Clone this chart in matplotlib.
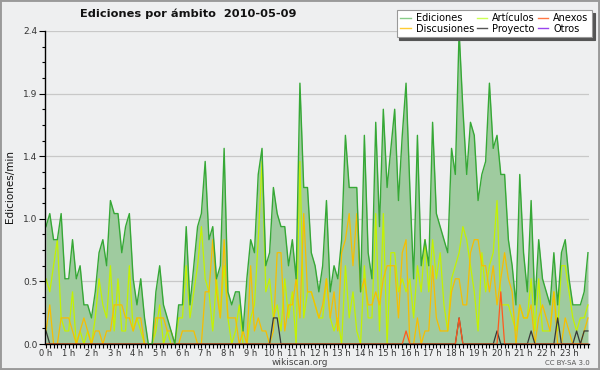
import numpy as np
import matplotlib
matplotlib.use("Agg")
import matplotlib.pyplot as plt
from matplotlib.lines import Line2D
from matplotlib.patches import Rectangle
from matplotlib.ticker import FixedLocator, MultipleLocator, FormatStrFormatter

# 10-minute samples over the day (144 points), edits per minute
ediciones = [
    0.9, 1.0, 0.8, 0.8, 1.0, 0.5, 0.5, 0.8, 0.5, 0.6, 0.3, 0.3, 0.2, 0.4, 0.7, 0.8, 0.6, 1.1, 1.0, 1.0, 0.7, 0.9, 1.0, 0.5,
    0.3, 0.5, 0.2, 0.0, 0.0, 0.4, 0.6, 0.3, 0.2, 0.1, 0.0, 0.3, 0.3, 0.9, 0.3, 0.6, 0.9, 1.0, 1.4, 0.8, 0.9, 0.5, 0.6, 1.5,
    0.4, 0.3, 0.4, 0.4, 0.1, 0.5, 0.8, 0.7, 1.3, 1.5, 0.6, 0.7, 1.2, 1.0, 0.9, 0.9, 0.6, 0.8, 0.5, 2.0, 1.2, 1.2, 0.7, 0.6,
    0.4, 0.6, 1.1, 0.4, 0.6, 0.5, 0.8, 1.6, 1.2, 1.2, 1.2, 0.4, 1.6, 0.7, 0.5, 1.7, 0.9, 1.8, 1.2, 1.5, 1.8, 1.1, 1.6, 2.0,
    1.2, 0.5, 1.6, 0.6, 0.8, 0.6, 1.7, 1.0, 0.9, 0.8, 0.7, 1.5, 1.3, 2.4, 1.8, 1.3, 1.7, 1.6, 1.1, 1.3, 1.4, 2.0, 1.5, 1.6,
    1.3, 1.3, 0.8, 0.6, 0.3, 1.3, 0.7, 0.4, 1.1, 0.3, 0.8, 0.5, 0.4, 0.3, 0.7, 0.3, 0.7, 0.8, 0.5, 0.3, 0.3, 0.3, 0.4, 0.7,
]
articulos = [
    0.5, 0.4, 0.6, 0.8, 0.2, 0.1, 0.1, 0.4, 0.0, 0.1, 0.0, 0.1, 0.0, 0.2, 0.5, 0.3, 0.2, 0.6, 0.1, 0.5, 0.1, 0.1, 0.6, 0.1,
    0.2, 0.1, 0.0, 0.0, 0.0, 0.1, 0.3, 0.0, 0.1, 0.0, 0.0, 0.2, 0.2, 0.6, 0.2, 0.4, 0.6, 0.9, 0.5, 0.4, 0.1, 0.5, 0.2, 0.6,
    0.2, 0.0, 0.1, 0.3, 0.0, 0.0, 0.2, 0.3, 0.8, 1.4, 0.4, 0.5, 0.2, 0.3, 0.1, 0.5, 0.2, 0.4, 0.0, 1.4, 0.2, 0.4, 0.4, 0.3,
    0.2, 0.2, 0.5, 0.2, 0.1, 0.2, 0.0, 0.6, 0.2, 0.4, 0.1, 0.0, 0.6, 0.2, 0.2, 1.0, 0.1, 1.0, 0.0, 0.7, 0.7, 0.4, 0.5, 0.4,
    0.5, 0.2, 0.6, 0.4, 0.8, 0.4, 0.8, 0.5, 0.7, 0.3, 0.1, 0.5, 0.6, 0.7, 0.9, 0.8, 0.6, 0.4, 0.1, 0.7, 0.4, 0.6, 0.7, 1.1,
    0.3, 0.3, 0.3, 0.2, 0.1, 0.3, 0.2, 0.2, 0.5, 0.1, 0.5, 0.1, 0.1, 0.1, 0.4, 0.1, 0.6, 0.6, 0.4, 0.2, 0.1, 0.2, 0.2, 0.3,
]
discusiones = [
    0.1, 0.3, 0.0, 0.0, 0.2, 0.2, 0.2, 0.1, 0.0, 0.1, 0.2, 0.1, 0.0, 0.1, 0.1, 0.0, 0.1, 0.1, 0.3, 0.3, 0.3, 0.2, 0.2, 0.1,
    0.2, 0.2, 0.0, 0.0, 0.0, 0.2, 0.2, 0.2, 0.1, 0.1, 0.0, 0.0, 0.1, 0.1, 0.1, 0.1, 0.0, 0.0, 0.4, 0.4, 0.8, 0.4, 0.2, 0.8,
    0.2, 0.2, 0.2, 0.0, 0.1, 0.0, 0.6, 0.1, 0.2, 0.1, 0.1, 0.0, 0.1, 0.7, 0.7, 0.1, 0.3, 0.3, 0.5, 0.2, 1.0, 0.4, 0.4, 0.3,
    0.2, 0.3, 0.5, 0.2, 0.4, 0.1, 0.7, 0.8, 1.0, 0.6, 1.0, 0.4, 0.5, 0.3, 0.3, 0.4, 0.3, 0.5, 0.6, 0.6, 0.6, 0.2, 0.7, 0.8,
    0.0, 0.0, 0.2, 0.0, 0.1, 0.1, 0.6, 0.2, 0.1, 0.1, 0.1, 0.4, 0.5, 0.5, 0.3, 0.3, 0.7, 0.8, 0.8, 0.6, 0.6, 0.4, 0.6, 0.3,
    0.5, 0.7, 0.5, 0.4, 0.0, 0.3, 0.2, 0.2, 0.3, 0.0, 0.2, 0.3, 0.2, 0.1, 0.4, 0.0, 0.0, 0.2, 0.1, 0.0, 0.0, 0.0, 0.1, 0.2,
]
# sparse series: sample index -> value (all other samples are 0)
proyecto_idx = [0, 60, 61, 109, 119, 128, 135, 140, 142, 143]
proyecto_val = [0.1, 0.2, 0.2, 0.2, 0.1, 0.1, 0.2, 0.1, 0.1, 0.1]
anexos_idx = [95, 109, 120]
anexos_val = [0.1, 0.2, 0.4]
otros = [0.0] * 144

hour_labels = [f"{h} h" for h in range(24)]

n = len(ediciones)
x = np.arange(n)
proyecto = np.zeros(n)
proyecto[proyecto_idx] = proyecto_val
anexos = np.zeros(n)
anexos[anexos_idx] = anexos_val

BG = "#eeeff0"
C_ED_FILL = "#9fcb9f"
C_ED_LINE = "#36a836"
C_ART = "#c4f200"
C_DISC = "#f7be00"
C_PROY = "#383838"
C_ANEX = "#ff5a1e"
C_OTROS = "#9438e8"

fig = plt.figure(figsize=(6, 3.7), dpi=100)
fig.patch.set_facecolor(BG)
ax = fig.add_axes([45 / 600, 26 / 370, 544 / 600, 313 / 370])
ax.set_facecolor(BG)

ax.fill_between(x, 0, ediciones, color=C_ED_FILL, lw=0, zorder=1)
ax.plot(x, otros, color=C_OTROS, lw=0.9, zorder=0.5)
ax.plot(x, articulos, color=C_ART, lw=0.9, zorder=2)
ax.plot(x, discusiones, color=C_DISC, lw=0.9, zorder=2.1)
ax.plot(x, proyecto, color=C_PROY, lw=0.9, zorder=2.2)
ax.plot(x, anexos, color=C_ANEX, lw=0.9, zorder=2.3)
ax.plot(x, ediciones, color=C_ED_LINE, lw=1.0, zorder=3)

ax.set_xlim(-0.26, 143.27)
ax.set_ylim(0, 2.4)

ax.yaxis.set_major_locator(FixedLocator(np.linspace(0, 2.4, 6)))
ax.yaxis.set_minor_locator(MultipleLocator(0.12))
ax.yaxis.set_major_formatter(FormatStrFormatter("%.1f"))
ax.set_xticks(np.arange(0, 144, 6))
ax.set_xticklabels(hour_labels)
ax.xaxis.set_minor_locator(MultipleLocator(1))

ax.grid(axis="y", which="major", color="#c8c8c8", lw=0.9, zorder=0)
ax.set_axisbelow(True)
for s in ("top", "right"):
    ax.spines[s].set_visible(False)
for s in ("left", "bottom"):
    ax.spines[s].set_color("black")
    ax.spines[s].set_linewidth(1.0)
    ax.spines[s].set_zorder(4)

ax.tick_params(axis="y", which="major", length=4, width=0.8, labelsize=6.5,
               labelcolor="#333333", pad=1.5)
ax.tick_params(axis="y", which="minor", length=2.5, width=0.8)
ax.tick_params(axis="x", which="major", length=3, width=0.8, labelsize=6,
               labelcolor="#333333", pad=0.5)
ax.tick_params(axis="x", which="minor", length=3, width=0.8)

fig.text(0.313, 0.962, "Ediciones por ámbito  2010-05-09", fontsize=8.2,
         fontweight="bold", ha="center", va="center", color="#111111")
fig.text(0.016, 0.495, "Ediciones/min", rotation=90, fontsize=7.5,
         ha="center", va="center", color="#111111")
fig.text(0.5, 0.021, "wikiscan.org", fontsize=6.5, ha="center", va="center", color="#444444")
fig.text(590 / 600, 0.02, "CC BY-SA 3.0", fontsize=5, ha="right", va="center", color="#555555")

handles = [
    Line2D([], [], color="#88cc88", lw=1),
    Line2D([], [], color="#ffcc33", lw=1),
    Line2D([], [], color="#ccff55", lw=1),
    Line2D([], [], color="#555555", lw=1),
    Line2D([], [], color="#ff7744", lw=1),
    Line2D([], [], color="#9944ee", lw=1),
]
labels = ["Ediciones", "Discusiones", "Artículos", "Proyecto", "Anexos", "Otros"]
leg = fig.legend(handles, labels, loc="upper right", bbox_to_anchor=(592 / 600, 1 - 10 / 370),
                 ncol=3, fontsize=7, frameon=True, fancybox=False,
                 shadow={"color": "#555555", "alpha": 1.0},
                 handlelength=1.1, handletextpad=0.5, columnspacing=0.3,
                 labelspacing=0.05, borderpad=0.35, borderaxespad=0)
leg.get_frame().set_facecolor("white")
leg.get_frame().set_edgecolor("#999999")
leg.get_frame().set_linewidth(0.8)

fig.patches.append(Rectangle((0, 0), 1, 1, transform=fig.transFigure, fill=False,
                             edgecolor="#9a9a9a", lw=2.8, zorder=10))

fig.savefig("out.png", dpi=100, facecolor=BG)
